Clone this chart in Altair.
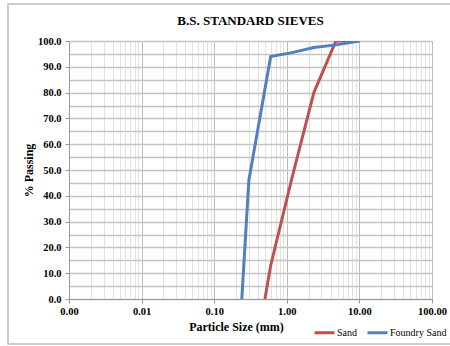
import altair as alt
import pandas as pd

# Sieve analysis data (particle size in mm, % passing)
sand_size = [0.5, 0.6, 1.18, 2.36, 4.75, 10.0]
sand_pass = [0.0, 13.0, 47.0, 80.0, 100.0, 100.0]
foundry_size = [0.24, 0.3, 0.6, 1.18, 2.36, 4.75, 10.0]
foundry_pass = [0.0, 46.0, 94.0, 95.5, 97.5, 98.5, 100.0]

series_names = ["Sand", "Foundry Sand"]
series_colors = ["#c0504d", "#4f81bd"]

decades = [0.001, 0.01, 0.1, 1, 10]
multipliers = [1, 2, 3, 4, 5, 6, 7, 8, 9]
x_ticks = [round(d * m, 6) for d in decades for m in multipliers] + [100]
y_ticks = list(range(0, 101, 5))

rows = []
for i, (s, p) in enumerate(zip(sand_size, sand_pass)):
    rows.append({"size": s, "passing": p, "series": "Sand", "order": i})
for i, (s, p) in enumerate(zip(foundry_size, foundry_pass)):
    rows.append({"size": s, "passing": p, "series": "Foundry Sand", "order": i})
df = pd.DataFrame(rows)

FONT = "Liberation Serif, Times New Roman, serif"
is_decade = "abs(log(datum.value)/LN10 - round(log(datum.value)/LN10)) < 0.001"

x_axis = alt.Axis(
    values=x_ticks,
    labelExpr=f"({is_decade}) ? format(datum.value, '.2f') : ''",
    title="Particle Size (mm)",
    titleFont=FONT, titleFontSize=12, titleFontWeight="bold", titleColor="#000",
    titleX=167, titleY=27, titleAlign="center", titleBaseline="middle",
    labelFont=FONT, labelFontSize=10.5, labelFontWeight="bold", labelColor="#000",
    labelPadding=3, tickSize=4,
    tickOpacity={"condition": {"test": is_decade, "value": 1}, "value": 0},
    tickColor="#999",
    gridColor={"condition": {"test": is_decade, "value": "#bdbdbd"}, "value": "#e2e2e2"},
    gridWidth=1,
    domainColor="#999",
    labelOverlap=False,
    labelFlush=False,
)

y_axis = alt.Axis(
    values=y_ticks,
    labelExpr="datum.value % 10 == 0 ? format(datum.value, '.1f') : ''",
    title="% Passing",
    titleFont=FONT, titleFontSize=12, titleFontWeight="bold", titleColor="#000",
    titlePadding=2,
    labelFont=FONT, labelFontSize=10.5, labelFontWeight="bold", labelColor="#000",
    labelPadding=4, tickSize=4,
    tickOpacity={"condition": {"test": "datum.value % 10 == 0", "value": 1}, "value": 0},
    tickColor="#999",
    gridColor="#c4c4c4", gridWidth=1.5,
    domainColor="#999",
    labelOverlap=False,
)

border = alt.Chart(pd.DataFrame({"k": [0]})).mark_rect(
    fill=None, stroke="#bdbdbd", strokeWidth=1.5
).encode(
    x=alt.value(-61), x2=alt.value(400), y=alt.value(-37), y2=alt.value(303)
)

lines = alt.Chart(df).mark_line(strokeWidth=3, clip=True).encode(
    x=alt.X("size:Q", scale=alt.Scale(type="log", domain=[0.001, 100], nice=False), axis=x_axis),
    y=alt.Y("passing:Q", scale=alt.Scale(domain=[0, 100], nice=False), axis=y_axis),
    color=alt.Color(
        "series:N",
        scale=alt.Scale(domain=series_names, range=series_colors),
        legend=alt.Legend(
            title=None, orient="none", direction="horizontal",
            legendX=244, legendY=280,
            symbolType="stroke", symbolStrokeWidth=3, symbolSize=400,
            labelFont=FONT, labelFontSize=10, labelColor="#000",
            labelOffset=1, columnPadding=4,
        ),
    ),
    order="order:Q",
)

chart = alt.layer(lines, border).properties(
    width=363, height=258,
    title=alt.TitleParams(
        "B.S. STANDARD SIEVES", font=FONT, fontSize=13, fontWeight="bold",
        color="#000", anchor="middle", frame="group", offset=0, dy=25,
    ),
    autosize=alt.AutoSizeParams(type="none"),
    padding={"left": 69, "top": 41, "right": 18, "bottom": 47},
).configure_view(stroke=None).configure(background="white")

chart.save("out.html", embed_options={"renderer": "svg", "actions": False})
